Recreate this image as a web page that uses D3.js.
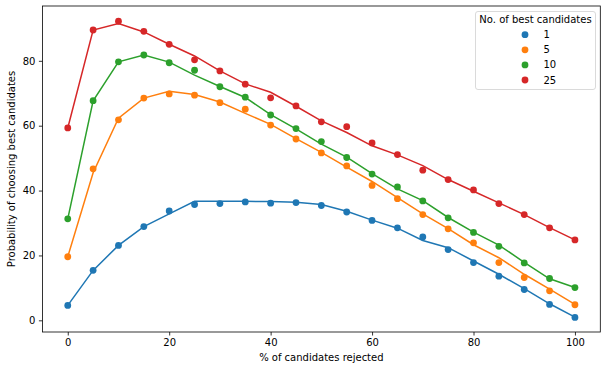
<!DOCTYPE html>
<html>
<head>
<meta charset="utf-8">
<script src="https://cdn.jsdelivr.net/npm/d3@7"></script>
<style>
  body { margin: 0; background: #fff; }
  text { font-family: "DejaVu Sans", sans-serif; fill: #000; }
</style>
</head>
<body>
<div id="chart"></div>
<script>
// % of candidates rejected
const rejected = [0,5,10,15,20,25,30,35,40,45,50,55,60,65,70,75,80,85,90,95,100];
const seriesNames = ["1", "5", "10", "25"];
const colors = ["#1f77b4", "#ff7f0e", "#2ca02c", "#d62728"];

// theoretical curves (lines)
const line1  = [4.6,15.4,23.1,28.9,32.8,36.7,36.7,36.7,36.6,36.4,35.7,33.6,30.9,28.4,24.6,22.4,18.3,14.2,9.8,5.1,1.0];
const line5  = [19.6,45.5,62.3,68.5,70.6,69.6,67.3,63.8,60.4,56.0,51.8,47.2,42.8,37.8,32.8,28.3,23.3,19.3,14.2,9.6,4.9];
const line10 = [31.3,67.7,79.7,81.8,79.6,75.6,72.1,68.7,63.4,59.0,54.3,50.3,45.2,40.5,36.9,31.7,27.2,23.2,17.9,12.8,10.1];
const line25 = [59.3,89.5,91.5,88.9,85.1,81.5,76.9,72.9,70.3,66.0,61.5,57.9,53.8,51.0,47.7,43.4,39.8,36.2,32.6,28.6,24.8];

// simulated results (dots)
const sim1  = [4.6,15.4,23.1,28.9,33.7,35.7,36.0,36.5,36.1,36.3,35.4,33.4,30.8,28.5,25.7,21.8,17.8,13.6,9.5,4.9,0.9];
const sim5  = [19.6,46.7,61.8,68.5,69.8,69.4,67.1,65.1,60.2,55.9,51.6,47.6,41.6,37.5,32.6,28.2,23.9,17.8,13.2,9.1,4.8];
const sim10 = [31.3,67.7,79.7,81.8,79.4,77.1,72.0,68.8,63.3,59.1,55.1,50.2,45.1,41.1,36.8,31.6,27.1,22.8,17.7,12.9,10.1];
const sim25 = [59.3,89.5,92.2,89.1,85.1,80.3,76.9,72.8,68.6,66.1,61.2,59.7,54.7,51.1,46.3,43.4,40.2,36.0,32.6,28.5,24.8];

const xTicks = [0,20,40,60,80,100];
const yTicks = [0,20,40,60,80];

const lines = [line1, line5, line10, line25];
const sims = [sim1, sim5, sim10, sim25];

const W = 607, H = 368;
const margin = {top: 6, right: 6.7, bottom: 36, left: 42.4};
const width = W - margin.left - margin.right;
const height = H - margin.top - margin.bottom;

const svg = d3.select("#chart").append("svg")
    .attr("width", W)
    .attr("height", H);

svg.append("rect").attr("width", W).attr("height", H).attr("fill", "#fff");

const g = svg.append("g")
    .attr("transform", "translate(" + margin.left + "," + margin.top + ")");

const x = d3.scaleLinear().domain([-5, 105]).range([0, width]);
const y = d3.scaleLinear().domain([-3.6, 96.9]).range([height, 0]);

// axes
const xAxis = g.append("g")
    .attr("transform", "translate(0," + height + ")")
    .call(d3.axisBottom(x).tickValues(xTicks).tickSize(3.5).tickPadding(3.5).tickFormat(d3.format("d")));
const yAxis = g.append("g")
    .call(d3.axisLeft(y).tickValues(yTicks).tickSize(3.5).tickPadding(3.5).tickFormat(d3.format("d")));

[xAxis, yAxis].forEach(a => {
    a.select(".domain").remove();
    a.selectAll("line").attr("stroke", "#000").attr("stroke-width", 0.8);
    a.selectAll("text").attr("font-size", 10).attr("font-family", "DejaVu Sans");
});

// series
const lineGen = d3.line()
    .x((d, i) => x(rejected[i]))
    .y(d => y(d));

seriesNames.forEach((name, k) => {
    g.append("path")
        .datum(lines[k])
        .attr("d", lineGen)
        .attr("fill", "none")
        .attr("stroke", colors[k])
        .attr("stroke-width", 1.5);

    g.selectAll(".dot" + k)
        .data(sims[k])
        .enter()
        .append("circle")
        .attr("class", "dot" + k)
        .attr("cx", (d, i) => x(rejected[i]))
        .attr("cy", d => y(d))
        .attr("r", 3.4)
        .attr("fill", colors[k]);
});

// frame
g.append("rect")
    .attr("width", width)
    .attr("height", height)
    .attr("fill", "none")
    .attr("stroke", "#000")
    .attr("stroke-width", 0.8);

// axis labels
svg.append("text")
    .attr("x", margin.left + width / 2)
    .attr("y", 361)
    .attr("text-anchor", "middle")
    .attr("font-size", 10)
    .text("% of candidates rejected");

svg.append("text")
    .attr("transform", "translate(15," + (margin.top + height / 2) + ") rotate(-90)")
    .attr("text-anchor", "middle")
    .attr("font-size", 10)
    .text("Probability of choosing best candidates");

// legend
const legend = svg.append("g").attr("transform", "translate(475.5,11.5)");
legend.append("rect")
    .attr("width", 120)
    .attr("height", 78)
    .attr("rx", 2.5)
    .attr("fill", "#fff")
    .attr("fill-opacity", 0.8)
    .attr("stroke", "#d0d0d0")
    .attr("stroke-width", 0.8);
legend.append("text")
    .attr("x", 60)
    .attr("y", 11.5)
    .attr("text-anchor", "middle")
    .attr("font-size", 10)
    .text("No. of best candidates");

seriesNames.forEach((name, k) => {
    const row = legend.append("g").attr("transform", "translate(0," + (23.2 + k * 15.1) + ")");
    row.append("circle")
        .attr("cx", 49.5)
        .attr("cy", 0)
        .attr("r", 3.4)
        .attr("fill", colors[k]);
    row.append("text")
        .attr("x", 68)
        .attr("y", 0)
        .attr("dy", "0.35em")
        .attr("font-size", 10)
        .text(name);
});
</script>
</body>
</html>
